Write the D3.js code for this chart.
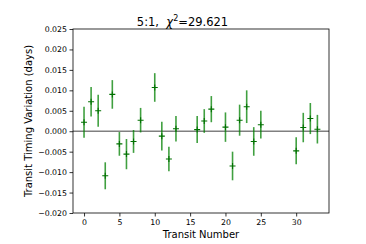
<!DOCTYPE html>
<html>
<head>
<meta charset="utf-8">
<script src="https://cdn.jsdelivr.net/npm/d3@7"></script>
<style>
  body { margin: 0; background: #fff; }
  text { font-family: "DejaVu Sans", sans-serif; white-space: pre; }
</style>
</head>
<body>
<svg width="366" height="244"></svg>
<script>
// transit epochs, TTV (days) and 1-sigma errors
const transits = [0, 1, 2, 3, 4, 5, 6, 7, 8, 10, 11, 12, 13, 16, 17, 18, 20, 21, 22, 23, 24, 25, 30, 31, 32, 33];
const ttv = [0.0022, 0.0072, 0.0050, -0.0109, 0.0090, -0.0031, -0.0056, -0.0025, 0.0027, 0.0107, -0.0012, -0.0068, 0.0006, 0.0004, 0.0025, 0.0054, 0.0010, -0.0085, 0.0027, 0.0060, -0.0025, 0.0016, -0.0048, 0.0009, 0.0031, 0.0005];
const ttvErr = [0.0038, 0.0036, 0.0039, 0.0033, 0.0035, 0.0029, 0.0037, 0.0028, 0.0030, 0.0035, 0.0035, 0.0030, 0.0031, 0.0033, 0.0029, 0.0032, 0.0036, 0.0035, 0.0038, 0.0040, 0.0035, 0.0034, 0.0033, 0.0036, 0.0038, 0.0035];
const yTicks = [0.025, 0.020, 0.015, 0.010, 0.005, 0.000, -0.005, -0.010, -0.015, -0.020];
const xTicks = [0, 5, 10, 15, 20, 25, 30];

const svg = d3.select("svg"),
    width = +svg.attr("width"),
    height = +svg.attr("height");

const margin = {left: 73, right: 37, top: 29, bottom: 31};
const plotW = width - margin.left - margin.right,
    plotH = height - margin.top - margin.bottom;

const x = d3.scaleLinear().domain([-1.56, 34.64]).range([margin.left, margin.left + plotW]);
const y = d3.scaleLinear().domain([-0.020, 0.025]).range([margin.top + plotH, margin.top]);

// zero line first so the bars sit on top
svg.append("line")
    .attr("x1", margin.left).attr("x2", margin.left + plotW)
    .attr("y1", y(0)).attr("y2", y(0))
    .attr("stroke", "#808080").attr("stroke-width", 1.4);

const gPts = svg.append("g");
const rows = transits.map((t, i) => ({t: t, v: ttv[i], e: ttvErr[i]}));

gPts.selectAll("line.bar")
    .data(rows).enter()
    .append("line")
    .attr("class", "bar")
    .attr("x1", d => x(d.t)).attr("x2", d => x(d.t))
    .attr("y1", d => y(d.v + d.e)).attr("y2", d => y(d.v - d.e))
    .attr("stroke", "green").attr("stroke-opacity", 0.75)
    .attr("stroke-width", 1.6);

// '+' markers
gPts.selectAll("path.mark")
    .data(rows).enter()
    .append("path")
    .attr("class", "mark")
    .attr("d", d => `M${x(d.t) - 3},${y(d.v)}H${x(d.t) + 3}M${x(d.t)},${y(d.v) - 3}V${y(d.v) + 3}`)
    .attr("stroke", "#007000").attr("stroke-width", 1.1)
    .attr("fill", "none");

// axes
const xAxis = svg.append("g")
    .attr("transform", `translate(0,${margin.top + plotH})`)
    .call(d3.axisBottom(x).tickValues(xTicks).tickSize(3.5).tickPadding(2.5).tickFormat(d3.format("d")));
const yAxis = svg.append("g")
    .attr("transform", `translate(${margin.left},0)`)
    .call(d3.axisLeft(y).tickValues(yTicks).tickSize(3.5).tickPadding(2.5)
      .tickFormat(d => d3.format(".3f")(d)));

[xAxis, yAxis].forEach(g => {
  g.select(".domain").remove();
  g.selectAll("text").attr("font-size", 7.8).attr("fill", "#000")
    .attr("font-family", "DejaVu Sans");
  g.selectAll("line").attr("stroke", "#000").attr("stroke-width", 0.8);
});

// frame
svg.append("rect")
    .attr("x", margin.left).attr("y", margin.top)
    .attr("width", plotW).attr("height", plotH)
    .attr("fill", "none").attr("stroke", "#000").attr("stroke-width", 0.8);

// labels
svg.append("text")
    .attr("x", margin.left + plotW / 2).attr("y", 238)
    .attr("text-anchor", "middle").attr("font-size", 10)
    .text("Transit Number");

svg.append("text")
    .attr("transform", `translate(32,${margin.top + plotH / 2}) rotate(-90)`)
    .attr("text-anchor", "middle").attr("font-size", 10)
    .text("Transit Timing Variation (days)");

const title = svg.append("text")
    .attr("x", 182.5).attr("y", 25.5)
    .attr("text-anchor", "middle").attr("font-size", 11.5);
title.append("tspan").text("5:1,\u00a0\u00a0");
title.append("tspan").attr("font-style", "italic").text("\u03c7");
title.append("tspan").attr("font-size", 8).attr("dy", -4.5).text("2");
title.append("tspan").attr("dy", 4.5).text("=29.621");
</script>
</body>
</html>
